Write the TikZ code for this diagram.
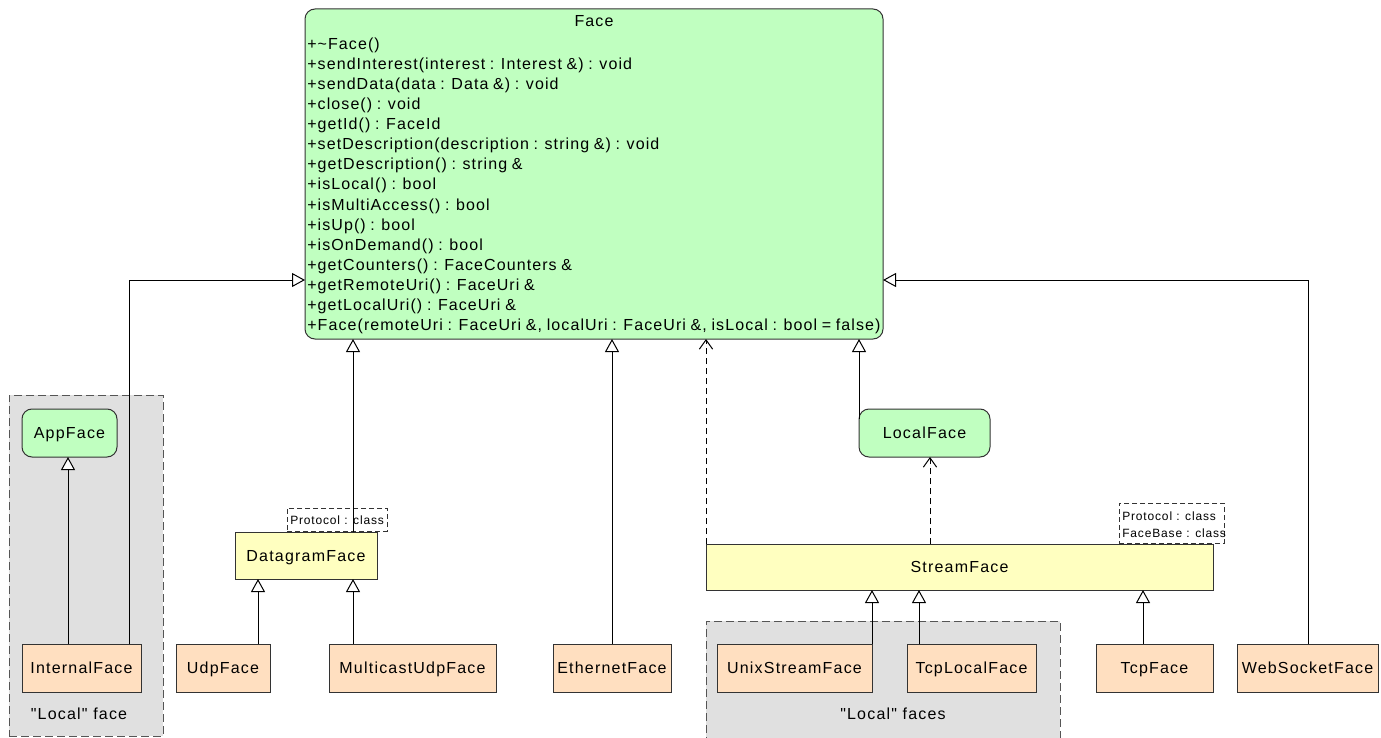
\documentclass[tikz,border=0pt]{standalone}
\usepackage{fontspec}
\setmainfont{Liberation Sans}
\newfontfamily\namefont{Liberation Sans}[LetterSpace=7.5]
\newfontfamily\methfont{Liberation Sans}[LetterSpace=6.8,WordSpace=0.85]
\newfontfamily\smallfont{Liberation Sans}[LetterSpace=7]
\usetikzlibrary{arrows.meta}
\definecolor{cgreen}{HTML}{C0FFC0}
\definecolor{cyellow}{HTML}{FFFFC0}
\definecolor{cpeach}{HTML}{FFDFC0}
\definecolor{cgray}{HTML}{E0E0E0}
\definecolor{cline}{HTML}{333333}
\definecolor{cgline}{HTML}{555555}
\newcommand\umlbox[7]{\node[#6, minimum width={(#4-#2)*0.75pt}, minimum height={(#5-#3)*0.75pt}] (#1) at ({(#2+#4)/2},{(#3+#5)/2}) {#7};}
\tikzset{
  base box/.style={draw=cline, line width=0.75pt, inner sep=0pt, outer sep=0pt,
    font={\namefont\fontsize{12pt}{14pt}\selectfont}, text height=8.6pt, text depth=0pt},
  greenbox/.style={base box, fill=cgreen, rounded corners=7.5pt},
  yellowbox/.style={base box, fill=cyellow},
  peachbox/.style={base box, fill=cpeach},
  groupbox/.style={draw=cgline, fill=cgray, line width=0.75pt, dash pattern=on 6pt off 3pt, inner sep=0pt, outer sep=0pt},
  tmplbox/.style={draw=cline, fill=white, line width=0.75pt, dash pattern=on 4pt off 2pt, inner sep=0pt, outer sep=0pt},
  meth/.style={anchor=base west, inner sep=0pt, font={\methfont\fontsize{12pt}{14pt}\selectfont}},
  smalltxt/.style={anchor=base west, inner sep=0pt, font={\smallfont\fontsize{9pt}{11pt}\selectfont}},
  grouptxt/.style={anchor=base, inner sep=0pt, font={\namefont\fontsize{12pt}{14pt}\selectfont}},
  inh/.style={draw=black, line width=0.75pt, -{Triangle[length=9.75pt,width=10.5pt,fill=white,line width=0.75pt]}},
  dep/.style={draw=black, line width=0.75pt, dash pattern=on 4.5pt off 3pt, -{Straight Barb[length=7pt,width=10pt,line width=0.75pt]}},
}
\begin{document}
\begin{tikzpicture}[x=0.75pt,y=-0.75pt]
\useasboundingbox (0,0) rectangle (1381,738);
% groups
\umlbox{grpL}{9}{395}{163}{736}{groupbox}{}
\umlbox{grpR}{706}{621}{1060}{745}{groupbox}{}
\node[grouptxt] (grpLtxt) at (79,719) {"Local" face};
\node[grouptxt] (grpRtxt) at (893,719) {"Local" faces};
% Face
\umlbox{face}{305}{9}{883}{339}{greenbox}{}
\node[anchor=base, inner sep=0pt, font={\methfont\fontsize{12pt}{14pt}\selectfont}] (facetitle) at (594,27) {Face};
\node[meth] (m1) at (307,50) {+\textasciitilde Face()};
\node[meth] (m2) at (307,70) {+sendInterest(interest : Interest \&) : void};
\node[meth] (m3) at (307,90) {+sendData(data : Data \&) : void};
\node[meth] (m4) at (307,110) {+close() : void};
\node[meth] (m5) at (307,130) {+getId() : FaceId};
\node[meth] (m6) at (307,150) {+setDescription(description : string \&) : void};
\node[meth] (m7) at (307,170) {+getDescription() : string \&};
\node[meth] (m8) at (307,190) {+isLocal() : bool};
\node[meth] (m9) at (307,210) {+isMultiAccess() : bool};
\node[meth] (m10) at (307,230) {+isUp() : bool};
\node[meth] (m11) at (307,250) {+isOnDemand() : bool};
\node[meth] (m12) at (307,270) {+getCounters() : FaceCounters \&};
\node[meth] (m13) at (307,290) {+getRemoteUri() : FaceUri \&};
\node[meth] (m14) at (307,310) {+getLocalUri() : FaceUri \&};
\node[meth] (m15) at (307,330) {+Face(remoteUri : FaceUri \&, localUri : FaceUri \&, isLocal : bool = false)};
% classes
\umlbox{appface}{22}{409}{117}{457}{greenbox}{AppFace}
\umlbox{internal}{22}{644}{141}{692}{peachbox}{InternalFace}
\umlbox{datagram}{235}{532}{377}{579}{yellowbox}{DatagramFace}
\umlbox{dgtmpl}{287}{508}{387}{531}{tmplbox}{}
\node[smalltxt] (dgtmpltxt) at (290,524) {Protocol : class};
\umlbox{udp}{176}{644}{270}{692}{peachbox}{UdpFace}
\umlbox{multicast}{329}{644}{496}{692}{peachbox}{MulticastUdpFace}
\umlbox{ethernet}{553}{644}{671}{692}{peachbox}{EthernetFace}
\umlbox{localface}{859}{409}{990}{457}{greenbox}{LocalFace}
\umlbox{stream}{706}{544}{1213}{590}{yellowbox}{StreamFace}
\umlbox{sttmpl}{1119}{503}{1224}{543}{tmplbox}{}
\node[smalltxt] (sttmpltxt1) at (1122,520) {Protocol : class};
\node[smalltxt] (sttmpltxt2) at (1122,537) {FaceBase : class};
\umlbox{unix}{717}{644}{872}{692}{peachbox}{UnixStreamFace}
\umlbox{tcplocal}{907}{644}{1036}{692}{peachbox}{TcpLocalFace}
\umlbox{tcp}{1096}{644}{1213}{692}{peachbox}{TcpFace}
\umlbox{websocket}{1237}{644}{1378}{692}{peachbox}{WebSocketFace}
% helper coordinates
\coordinate (bendL) at (129,280);
\coordinate (bendR) at (1308,280);
\coordinate (xdg) at (353,0);
\coordinate (xudp) at (258,0);
\coordinate (xint) at (68,0);
\coordinate (xlf) at (930,0);
\coordinate (xtl) at (919,0);
\coordinate (xtcp) at (1143,0);
% connectors
\draw[inh] (internal.north -| xint) -- (appface.south -| xint);
\draw[inh] (internal.north -| bendL) |- (face.west |- bendL);
\draw[inh] (datagram.north -| xdg) -- (face.south -| xdg);
\draw[inh] (udp.north -| xudp) -- (datagram.south -| xudp);
\draw[inh] (multicast.north -| xdg) -- (datagram.south -| xdg);
\draw[inh] (ethernet.north) -- (face.south -| ethernet.north);
\draw[dep] (stream.north west) -- (face.south -| stream.north west);
\draw[inh] ([yshift=-7.5pt]localface.north west) -- (face.south -| localface.north west);
\draw[dep] (stream.north -| xlf) -- (localface.south -| xlf);
\draw[inh] (unix.north east) -- (stream.south -| unix.north east);
\draw[inh] (tcplocal.north -| xtl) -- (stream.south -| xtl);
\draw[inh] (tcp.north -| xtcp) -- (stream.south -| xtcp);
\draw[inh] (websocket.north -| bendR) |- (face.east |- bendR);
\end{tikzpicture}
\end{document}
